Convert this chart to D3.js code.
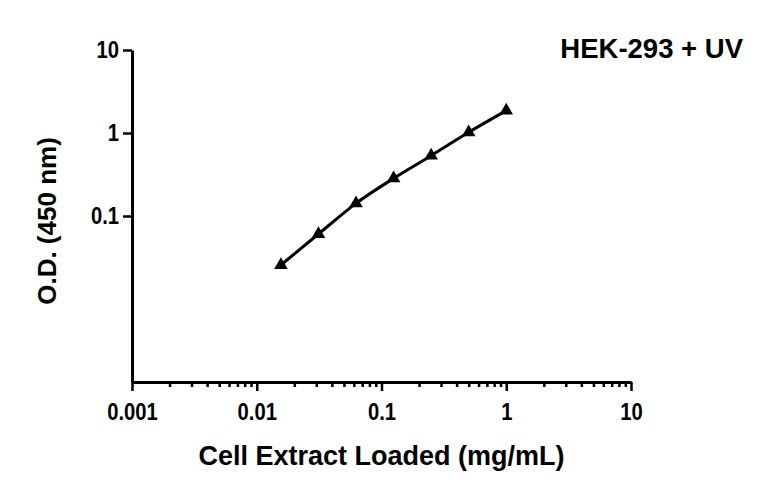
<!DOCTYPE html>
<html>
<head>
<meta charset="utf-8">
<script src="https://cdn.jsdelivr.net/npm/d3@7"></script>
<style>
  body { margin: 0; background: #fff; }
  text { font-family: "Liberation Sans", Arial, sans-serif; font-weight: bold; fill: #000; }
</style>
</head>
<body>
<div id="chart"></div>
<script>
// concentrations (mg/mL) and measured O.D. at 450 nm
const conc = [0.015625, 0.03125, 0.0625, 0.125, 0.25, 0.5, 1];
const od = [0.0257, 0.0607, 0.142, 0.284, 0.533, 1.02, 1.86];
const xMajorTicks = [0.001, 0.01, 0.1, 1, 10];
const yMajorTicks = [0.1, 1, 10];
const xTitle = "Cell Extract Loaded (mg/mL)";
const yTitle = "O.D. (450 nm)";
const chartTitle = "HEK-293 + UV";

const W = 768, H = 495;
const margin = {top: 50, right: 137, bottom: 113, left: 132};
const width = W - margin.left - margin.right,
      height = H - margin.top - margin.bottom;
const squeeze = 0.86; // tick labels are drawn a bit narrow

const svg = d3.select("#chart").append("svg")
  .attr("width", W).attr("height", H);
const g = svg.append("g")
  .attr("transform", `translate(${margin.left},${margin.top})`);

const x = d3.scaleLog().domain([0.001, 10]).range([0, width]);
const y = d3.scaleLog().domain([0.001, 10]).range([height, 0]);

// minor x ticks (2..9 in each decade)
const minor = x.ticks().filter(v => !xMajorTicks.some(m => Math.abs(m - v) < 1e-12));
g.append("g")
  .attr("transform", `translate(0,${height})`)
  .call(d3.axisBottom(x).tickValues(minor).tickSize(5).tickFormat(""))
  .call(a => a.select(".domain").remove())
  .selectAll("line").attr("stroke-width", 2.5);

// x axis
const xAxis = g.append("g")
  .attr("transform", `translate(0,${height})`)
  .call(d3.axisBottom(x).tickValues(xMajorTicks).tickSize(9).tickSizeOuter(0)
    .tickFormat(d => String(d)));
xAxis.select(".domain").attr("stroke-width", 3);
xAxis.selectAll(".tick line").attr("stroke-width", 2.5);
xAxis.selectAll("text")
  .style("font-size", "23.5px")
  .attr("y", 38).attr("dy", 0)
  .attr("transform", `scale(${squeeze},1)`);

// y axis
const yAxis = g.append("g")
  .call(d3.axisLeft(y).tickValues(yMajorTicks).tickSize(9).tickSizeOuter(0)
    .tickFormat(d => String(d)));
yAxis.select(".domain").attr("stroke-width", 3);
yAxis.selectAll(".tick line").attr("stroke-width", 2.5);
yAxis.selectAll("text")
  .style("font-size", "23.5px")
  .attr("x", -13 / squeeze)
  .attr("transform", `scale(${squeeze},1)`);

// fitted curve
const pts = conc.map((c, i) => [c, od[i]]);
g.append("path")
  .datum(pts)
  .attr("fill", "none")
  .attr("stroke", "#000")
  .attr("stroke-width", 3)
  .attr("d", d3.line().x(d => x(d[0])).y(d => y(d[1])).curve(d3.curveMonotoneX));

// triangle markers
g.selectAll(".pt")
  .data(pts)
  .enter().append("path")
  .attr("class", "pt")
  .attr("transform", d => `translate(${x(d[0])},${y(d[1])})`)
  .attr("d", d3.symbol().type(d3.symbolTriangle).size(80))
  .attr("fill", "#000");

// titles
svg.append("text")
  .attr("x", margin.left + width / 2)
  .attr("y", 465)
  .attr("text-anchor", "middle")
  .style("font-size", "27px")
  .text(xTitle);

svg.append("text")
  .attr("transform", `translate(56,221) rotate(-90)`)
  .attr("text-anchor", "middle")
  .style("font-size", "26px")
  .text(yTitle);

svg.append("text")
  .attr("x", 743)
  .attr("y", 58)
  .attr("text-anchor", "end")
  .style("font-size", "27.5px")
  .text(chartTitle);
</script>
</body>
</html>
